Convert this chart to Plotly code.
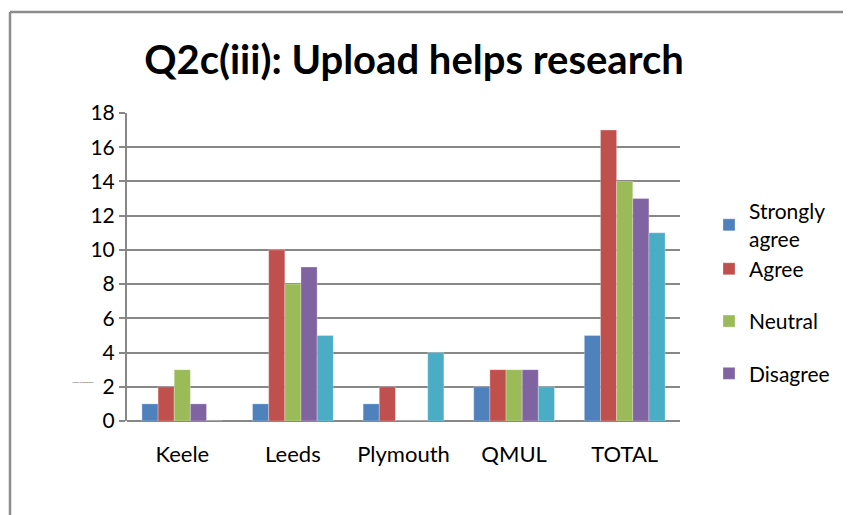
import plotly.graph_objects as go

# chart data
sites = ["Keele", "Leeds", "Plymouth", "QMUL", "TOTAL"]
strongly_agree = [1, 1, 1, 2, 5]
agree = [2, 10, 2, 3, 17]
neutral = [3, 8, 0, 3, 14]
disagree = [1, 9, 0, 3, 13]
strongly_disagree = [0, 5, 4, 2, 11]

series_names = ["Strongly<br>agree", "Agree", "Neutral", "Disagree", "Strongly disagree"]
series_values = [strongly_agree, agree, neutral, disagree, strongly_disagree]
series_colors = ["#4F81BD", "#C0504D", "#9BBB59", "#8064A2", "#4BACC6"]
legend_groups = ["a", "a", "b", "c", "d"]
y_ticks = [0, 2, 4, 6, 8, 10, 12, 14, 16, 18]

W, H = 851, 515
OFF = 8  # page body margin shifts the figure by this much
L, R, T, B = 127 - OFF, 680 - OFF, 113 - OFF, 421 - OFF  # plot area in pixels


def px_x(x):
    return (x - OFF - L) / (R - L)


def px_y(y):
    return (B - (y - OFF)) / (B - T)


fig = go.Figure()
for i, (name, vals, col) in enumerate(zip(series_names, series_values, series_colors)):
    fig.add_trace(go.Bar(
        x=sites,
        y=vals,
        name=name,
        marker=dict(color=col, line=dict(color="rgba(255,255,255,0.35)", width=0.8)),
        showlegend=(i < 4),
        legendgroup=legend_groups[i],
    ))

fig.update_layout(
    width=W,
    height=H,
    margin=dict(l=L, r=W - R, t=T, b=H - B, pad=0),
    paper_bgcolor="white",
    plot_bgcolor="white",
    barmode="group",
    bargap=0.27,
    bargroupgap=0,
    font=dict(family="Lato, 'Open Sans', sans-serif", color="black", size=21),
    title=dict(
        text="<b>Q2c(iii): Upload helps research</b>",
        font=dict(size=40, family="Lato, 'Open Sans', sans-serif"),
        x=(414 - OFF) / W, xanchor="center",
        y=1 - (60 - OFF) / H, yanchor="middle",
    ),
    legend=dict(
        x=px_x(709), xanchor="left",
        y=px_y(191), yanchor="top",
        font=dict(size=21),
        tracegroupgap=22,
        traceorder="grouped",
        bgcolor="rgba(0,0,0,0)",
    ),
    xaxis=dict(
        showgrid=False,
        showline=False,
        ticks="",
        ticklabelstandoff=18,
        tickfont=dict(size=22),
    ),
    yaxis=dict(
        range=[0, 18],
        tickvals=y_ticks,
        showgrid=True,
        gridcolor="#878787",
        gridwidth=2,
        showline=True,
        linecolor="#878787",
        linewidth=2,
        ticks="outside",
        ticklen=6,
        tickwidth=2,
        tickcolor="#878787",
        tickfont=dict(size=21),
        zeroline=True,
        zerolinecolor="#878787",
        zerolinewidth=2,
    ),
)

# outer chart frame (top and left edges visible)
fig.add_shape(type="line", xref="paper", yref="paper",
              x0=px_x(10), x1=px_x(W + 20), y0=px_y(12), y1=px_y(12),
              line=dict(color="#8c8c8c", width=2.5))
fig.add_shape(type="line", xref="paper", yref="paper",
              x0=px_x(10), x1=px_x(10), y0=px_y(12), y1=px_y(H + 20),
              line=dict(color="#8c8c8c", width=2.5))

# tiny axis title left by the original
fig.add_annotation(text="Number of Respondents", xref="paper", yref="paper",
                   x=px_x(95), xanchor="right", y=px_y(386), showarrow=False,
                   font=dict(size=2, color="#333"))

fig.write_html("out.html")
